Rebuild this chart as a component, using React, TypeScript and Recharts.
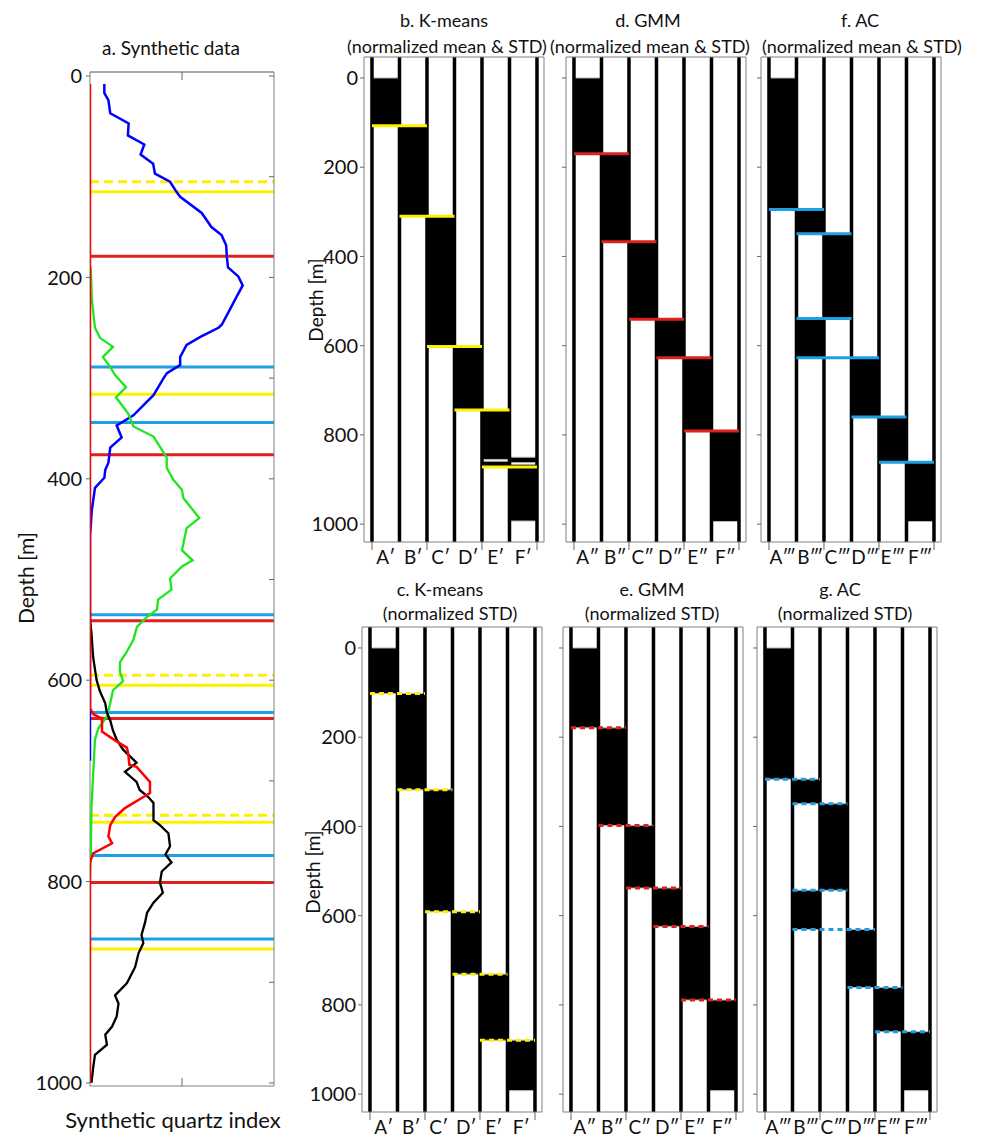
import { ComposedChart, ReferenceArea, ReferenceLine, Scatter, XAxis, YAxis } from "recharts";

const FONT = "Lato, 'Open Sans', sans-serif";

// ---- panel a: synthetic logs (depth, index) ----
const depthTicks = [0, 200, 400, 600, 800, 1000];
const minorDepthTicks = [0, 100, 200, 300, 400, 500, 600, 700, 800, 900, 1000];

const blueCurve: [number, number][] = [
  [8, 0.078], [17, 0.078], [24, 0.1], [37, 0.11], [47, 0.21], [59, 0.206], [68, 0.295], [78, 0.275],
  [87, 0.343], [97, 0.353], [105, 0.435], [115, 0.47], [120, 0.49], [136, 0.607], [150, 0.66],
  [158, 0.715], [168, 0.74], [180, 0.744], [190, 0.75], [199, 0.806], [208, 0.83], [219, 0.797],
  [232, 0.76], [247, 0.716], [250, 0.698], [259, 0.6], [267, 0.525], [279, 0.49], [287, 0.49],
  [295, 0.418], [300, 0.4], [317, 0.345], [337, 0.236], [347, 0.145], [359, 0.172], [369, 0.11],
  [384, 0.1], [391, 0.083], [399, 0.078], [409, 0.027], [431, 0.01], [457, 0], [680, 0],
];
const greenCurve: [number, number][] = [
  [190, 0.004], [222, 0.01], [250, 0.027], [260, 0.054], [269, 0.125], [279, 0.07], [289, 0.11],
  [297, 0.136], [309, 0.196], [319, 0.141], [335, 0.207], [348, 0.236], [358, 0.345], [371, 0.39],
  [379, 0.417], [389, 0.417], [401, 0.453], [411, 0.5], [419, 0.507], [439, 0.594], [449, 0.525],
  [471, 0.5], [481, 0.558], [487, 0.5], [499, 0.435], [510, 0.443], [520, 0.37], [530, 0.364],
  [537, 0.31], [547, 0.255], [560, 0.236], [573, 0.196], [582, 0.163], [592, 0.163], [601, 0.18],
  [610, 0.125], [623, 0.11], [636, 0.092], [648, 0.045], [659, 0.027], [726, 0.008], [774, 0.004], [795, 0],
];
const blackCurve: [number, number][] = [
  [540, 0], [553, 0.008], [577, 0.017], [600, 0.036], [611, 0.054], [623, 0.083], [631, 0.09],
  [640, 0.11], [650, 0.125], [659, 0.145], [669, 0.18], [682, 0.253], [691, 0.19], [701, 0.253],
  [709, 0.27], [716, 0.317], [722, 0.345], [739, 0.345], [744, 0.38], [752, 0.426], [765, 0.435],
  [773, 0.41], [781, 0.443], [790, 0.39], [801, 0.38], [811, 0.396], [821, 0.345], [831, 0.31],
  [840, 0.3], [853, 0.28], [861, 0.29], [871, 0.264], [885, 0.245], [901, 0.2], [913, 0.136],
  [921, 0.155], [934, 0.145], [944, 0.12], [952, 0.083], [962, 0.092], [972, 0.027], [985, 0.017], [1000, 0.008],
];
const redCurve: [number, number][] = [
  [8, 0], [628, 0], [634, 0.02], [638, 0.065], [651, 0.065], [659, 0.13], [667, 0.2], [672, 0.207],
  [684, 0.214], [686, 0.253], [701, 0.326], [712, 0.326], [716, 0.29], [727, 0.19], [736, 0.136],
  [744, 0.11], [755, 0.1], [762, 0.12], [772, 0.017], [781, 0], [1000, 0],
];

// boundaries copied into panel a
const kmBounds = [115, 316, 605, 741, 867];
const kmStdBounds = [105, 595, 734];
const gmmBounds = [179, 376, 541, 638, 801];
const acBounds = [289, 344, 535, 632, 774, 857];

// ---- panels b-g: cluster columns ----
const colsP = ["A′", "B′", "C′", "D′", "E′", "F′"];
const colsPP = ["A″", "B″", "C″", "D″", "E″", "F″"];
const colsPPP = ["A‴", "B‴", "C‴", "D‴", "E‴", "F‴"];

// [column, top depth, bottom depth]
type Seg = [number, number, number];
// [depth, first column, last column]
type Cut = [number, number, number];

const kmMeanStdSegs: Seg[] = [
  [0, 0, 107], [1, 107, 310], [2, 310, 602], [3, 602, 744], [4, 744, 855], [4, 859, 872], [5, 850, 862], [5, 866, 993],
];
const kmMeanStdCuts: Cut[] = [[107, 0, 1], [310, 1, 2], [602, 2, 3], [744, 3, 4], [872, 4, 5]];

const kmStdSegs: Seg[] = [[0, 0, 102], [1, 102, 318], [2, 318, 591], [3, 591, 731], [4, 731, 879], [5, 879, 992]];
const kmStdCuts: Cut[] = [[102, 0, 1], [318, 1, 2], [591, 2, 3], [731, 3, 4], [879, 4, 5]];

const gmmMeanStdSegs: Seg[] = [[0, 0, 170], [1, 170, 367], [2, 367, 541], [3, 541, 627], [4, 627, 791], [5, 791, 994]];
const gmmMeanStdCuts: Cut[] = [[170, 0, 1], [367, 1, 2], [541, 2, 3], [627, 3, 4], [791, 4, 5]];

const gmmStdSegs: Seg[] = [[0, 0, 179], [1, 179, 398], [2, 398, 538], [3, 538, 624], [4, 624, 789], [5, 789, 992]];
const gmmStdCuts: Cut[] = [[179, 0, 1], [398, 1, 2], [538, 2, 3], [624, 3, 4], [789, 4, 5]];

const acMeanStdSegs: Seg[] = [
  [0, 0, 295], [1, 295, 349], [2, 349, 539], [1, 539, 627], [3, 627, 760], [4, 760, 861], [5, 861, 994],
];
const acMeanStdCuts: Cut[] = [[295, 0, 1], [349, 1, 2], [539, 1, 2], [627, 1, 3], [760, 3, 4], [861, 4, 5]];

const acStdSegs: Seg[] = [
  [0, 0, 294], [1, 294, 349], [2, 349, 543], [1, 543, 631], [3, 631, 761], [4, 761, 860], [5, 860, 992],
];
const acStdCuts: Cut[] = [[294, 0, 1], [349, 1, 2], [543, 1, 2], [631, 1, 3], [761, 3, 4], [860, 4, 5]];

const YELLOW = "#fff000";
const RED = "#e0201c";
const LBLUE = "#1c9fe3";
const FRAME = "#808080";

const toPts = (c: [number, number][]) => c.map(([d, v]) => ({ d, v }));
const noDot = () => <g />;
const noTick = () => <g />;

function Text({ x, y, size, children, rotate }: { x: number; y: number; size: number; children: string; rotate?: boolean }) {
  return (
    <div
      style={{
        position: "absolute",
        left: x,
        top: y,
        transform: `translate(-50%, -50%)${rotate ? " rotate(-90deg)" : ""}`,
        fontFamily: FONT,
        fontSize: size,
        whiteSpace: "nowrap",
        color: "#111",
        lineHeight: 1,
      }}
    >
      {children}
    </div>
  );
}

const A_DEPTH: [number, number] = [-4, 1003];

function SyntheticPanel() {
  const all = [...toPts(blueCurve), ...toPts(greenCurve), ...toPts(blackCurve), ...toPts(redCurve)];
  return (
    <div style={{ position: "absolute", left: 0, top: 0 }}>
      <ComposedChart width={300} height={1138} data={all} margin={{ top: 72, right: 26, bottom: 52, left: 10 }}>
        <XAxis
          type="number"
          dataKey="v"
          domain={[0, 1]}
          allowDataOverflow
          mirror
          height={1}
          ticks={[0.5]}
          tick={noTick}
          tickSize={8}
          tickLine={{ stroke: "#666" }}
          axisLine={{ stroke: FRAME }}
        />
        <XAxis
          xAxisId="top"
          orientation="top"
          type="number"
          dataKey="v"
          domain={[0, 1]}
          allowDataOverflow
          mirror
          height={1}
          ticks={[0.5]}
          tick={noTick}
          tickSize={8}
          tickLine={{ stroke: "#666" }}
          axisLine={{ stroke: "#555" }}
        />
        <YAxis
          type="number"
          dataKey="d"
          reversed
          domain={A_DEPTH}
          allowDataOverflow
          width={80}
          ticks={depthTicks}
          interval={0}
          tickSize={4}
          tickMargin={4}
          tick={{ fill: "#111", fontSize: 20, fontFamily: FONT }}
          tickLine={{ stroke: "#666" }}
          axisLine={{ stroke: FRAME }}
        />
        <YAxis
          yAxisId="right"
          orientation="right"
          type="number"
          dataKey="d"
          reversed
          domain={A_DEPTH}
          allowDataOverflow
          mirror
          width={1}
          ticks={minorDepthTicks}
          interval={0}
          tick={noTick}
          tickSize={5}
          tickLine={{ stroke: "#666" }}
          axisLine={{ stroke: FRAME }}
        />
        <Scatter data={toPts(blueCurve)} fill="#0000ff" line={{ stroke: "#0000ff", strokeWidth: 2.5 }} shape={noDot} isAnimationActive={false} />
        <Scatter data={toPts(greenCurve)} fill="#1ee61e" line={{ stroke: "#1ee61e", strokeWidth: 2.3 }} shape={noDot} isAnimationActive={false} />
        <Scatter data={toPts(blackCurve)} fill="#000" line={{ stroke: "#000", strokeWidth: 2.3 }} shape={noDot} isAnimationActive={false} />
        <Scatter data={toPts(redCurve)} fill="#ff0000" line={{ stroke: "#ff0000", strokeWidth: 2.5 }} shape={noDot} isAnimationActive={false} />
        {kmStdBounds.map((d) => (
          <ReferenceLine key={`ks${d}`} y={d} stroke={YELLOW} strokeWidth={3} strokeDasharray="9 5" />
        ))}
        {kmBounds.map((d) => (
          <ReferenceLine key={`k${d}`} y={d} stroke={YELLOW} strokeWidth={3} />
        ))}
        {acBounds.map((d) => (
          <ReferenceLine key={`a${d}`} y={d} stroke={LBLUE} strokeWidth={3} />
        ))}
        {gmmBounds.map((d) => (
          <ReferenceLine key={`g${d}`} y={d} stroke={RED} strokeWidth={3} />
        ))}
      </ComposedChart>
    </div>
  );
}

const colTicks = [0, 0.5, 1, 1.5, 2, 2.5, 3, 3.5, 4, 4.5, 5, 5.5, 6];
const COL_DOMAIN: [number, number] = [-0.29, 6.255];
const PANEL_DEPTH: [number, number] = [-47, 1040];

function ColumnTick(props: any) {
  const { x, y, payload, names } = props;
  const v = payload.value as number;
  if (Number.isInteger(v)) {
    return v % 2 === 0 ? <line x1={x} x2={x} y1={y} y2={y + 8} stroke="#666" /> : <g />;
  }
  return (
    <text x={x} y={y + 22} textAnchor="middle" fontSize={19} fontFamily={FONT} fill="#111">
      {names[Math.floor(v)]}
    </text>
  );
}

type PanelProps = {
  boxLeft: number;
  boxTop: number;
  segs: Seg[];
  cuts: Cut[];
  names: string[];
  color: string;
  dashed: boolean;
  labels: boolean;
};

function ClusterPanel({ boxLeft, boxTop, segs, cuts, names, color, dashed, labels }: PanelProps) {
  const rows = segs.map(([c, a, b]) => ({ col: c + 0.5, top: a, bottom: b }));
  return (
    <div style={{ position: "absolute", left: boxLeft - 60, top: boxTop - 4 }}>
      <ComposedChart width={250} height={519} data={rows} margin={{ top: 3, right: 9, bottom: 0, left: 4 }}>
        <XAxis
          type="number"
          dataKey="col"
          domain={COL_DOMAIN}
          allowDataOverflow
          height={30}
          ticks={colTicks}
          interval={0}
          tickSize={0}
          tickMargin={0}
          tickLine={false}
          tick={(p: any) => <ColumnTick {...p} names={names} />}
          axisLine={{ stroke: FRAME }}
        />
        <XAxis
          xAxisId="top"
          orientation="top"
          type="number"
          dataKey="col"
          domain={COL_DOMAIN}
          allowDataOverflow
          height={1}
          tick={noTick}
          tickLine={false}
          axisLine={{ stroke: FRAME }}
        />
        <YAxis
          type="number"
          dataKey="top"
          reversed
          domain={PANEL_DEPTH}
          allowDataOverflow
          width={56}
          ticks={depthTicks}
          interval={0}
          tickSize={4}
          tickMargin={2}
          tick={labels ? { fill: "#111", fontSize: 20, fontFamily: FONT } : noTick}
          tickLine={{ stroke: "#666" }}
          axisLine={{ stroke: FRAME }}
        />
        <YAxis
          yAxisId="right"
          orientation="right"
          type="number"
          dataKey="top"
          reversed
          domain={PANEL_DEPTH}
          allowDataOverflow
          width={1}
          tick={noTick}
          tickLine={false}
          axisLine={{ stroke: FRAME }}
        />
        <Scatter dataKey="top" shape={noDot} isAnimationActive={false} />
        {segs.map(([c, a, b], i) => (
          <ReferenceArea key={`s${i}`} x1={c} x2={c + 1} y1={a} y2={b} fill="#000" fillOpacity={1} stroke="#b5b5b5" strokeWidth={1} />
        ))}
        {[0, 1, 2, 3, 4, 5, 6].map((k) => (
          <ReferenceLine key={`v${k}`} x={k} stroke="#000" strokeWidth={3.5} />
        ))}
        {cuts.map(([d, c0, c1], i) => (
          <ReferenceLine
            key={`c${i}`}
            segment={[
              { x: c0, y: d },
              { x: c1 + 1, y: d },
            ]}
            stroke={color}
            strokeWidth={3}
            strokeDasharray={dashed ? "5 4" : undefined}
          />
        ))}
      </ComposedChart>
    </div>
  );
}

export default function App() {
  return (
    <div style={{ position: "absolute", left: 0, top: 0, width: 989, height: 1138, background: "#fff", overflow: "hidden" }}>
      <SyntheticPanel />
      <Text x={171} y={47} size={19}>a. Synthetic data</Text>
      <Text x={173} y={1120} size={22}>Synthetic quartz index</Text>
      <Text x={25} y={578} size={21} rotate>Depth [m]</Text>

      <ClusterPanel boxLeft={364} boxTop={57} segs={kmMeanStdSegs} cuts={kmMeanStdCuts} names={colsP} color={YELLOW} dashed={false} labels />
      <ClusterPanel boxLeft={566} boxTop={57} segs={gmmMeanStdSegs} cuts={gmmMeanStdCuts} names={colsPP} color={RED} dashed={false} labels={false} />
      <ClusterPanel boxLeft={761} boxTop={57} segs={acMeanStdSegs} cuts={acMeanStdCuts} names={colsPPP} color={LBLUE} dashed={false} labels={false} />
      <ClusterPanel boxLeft={362} boxTop={627} segs={kmStdSegs} cuts={kmStdCuts} names={colsP} color={YELLOW} dashed labels />
      <ClusterPanel boxLeft={563} boxTop={627} segs={gmmStdSegs} cuts={gmmStdCuts} names={colsPP} color={RED} dashed labels={false} />
      <ClusterPanel boxLeft={757} boxTop={627} segs={acStdSegs} cuts={acStdCuts} names={colsPPP} color={LBLUE} dashed labels={false} />

      <Text x={444} y={20} size={18}>b. K-means</Text>
      <Text x={447} y={46} size={18}>(normalized mean &amp; STD)</Text>
      <Text x={648} y={20} size={18}>d. GMM</Text>
      <Text x={650} y={46} size={18}>(normalized mean &amp; STD)</Text>
      <Text x={860} y={20} size={18}>f. AC</Text>
      <Text x={862} y={46} size={18}>(normalized mean &amp; STD)</Text>

      <Text x={440} y={589} size={18}>c. K-means</Text>
      <Text x={450} y={613} size={18}>(normalized STD)</Text>
      <Text x={652} y={589} size={18}>e. GMM</Text>
      <Text x={652} y={613} size={18}>(normalized STD)</Text>
      <Text x={840} y={589} size={18}>g. AC</Text>
      <Text x={845} y={613} size={18}>(normalized STD)</Text>

      <Text x={315} y={300} size={19} rotate>Depth [m]</Text>
      <Text x={312} y={872} size={19} rotate>Depth [m]</Text>
    </div>
  );
}
